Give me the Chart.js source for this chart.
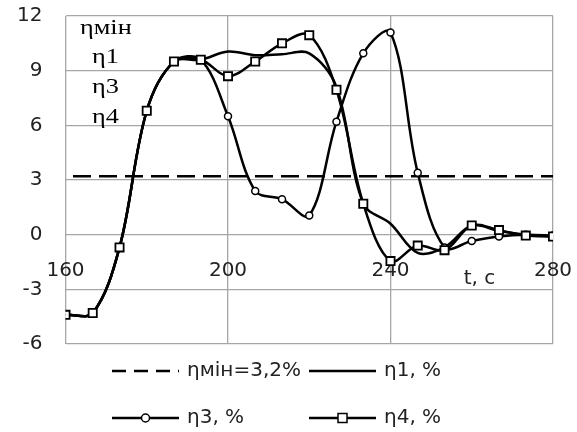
<!DOCTYPE html>
<html>
<head>
<meta charset="utf-8">
<script src="https://cdn.jsdelivr.net/npm/chart.js"></script>
<style>
  html, body { margin: 0; padding: 0; background: #fff; }
  #wrap { width: 577px; height: 432px; position: relative; }
</style>
</head>
<body>
<div id="wrap"><canvas id="chart"></canvas></div>
<script>
// час, с
const tValues = [160, 166.7, 173.3, 180, 186.7, 193.3, 200, 206.7, 213.3, 220,
                 226.7, 233.3, 240, 246.7, 253.3, 260, 266.7, 273.3, 280];

// ηмін = 3,2 %
const etaMinT = [160, 280];
const etaMinValues = [3.2, 3.2];

// η1, % (без маркерів)
const eta1Values = [-4.4, -4.3, -0.7, 6.8, 9.5, 9.6, 10.05, 9.85, 9.9, 9.95,
                    8.1, 1.7, 0.6, -1.0, -0.7, 0.5, 0.2, 0.0, -0.1];

// η3, % (кружки)
const eta3Values = [-4.4, -4.3, -0.7, 6.8, 9.5, 9.6, 6.5, 2.4, 1.95, 1.05,
                    6.2, 9.95, 11.1, 3.4, -0.7, -0.35, -0.1, 0.0, -0.05];

// η4, % (квадрати)
const eta4Values = [-4.4, -4.3, -0.7, 6.8, 9.5, 9.6, 8.7, 9.5, 10.5, 10.95,
                    7.95, 1.7, -1.45, -0.6, -0.85, 0.5, 0.25, -0.05, -0.1];

const xTickStep = 40;
const yTickStep = 3;

const legendLabels = ['ηмін=3,2%', 'η1, %', 'η3, %', 'η4, %'];
const innerLabels = ['ηмін', 'η1', 'η3', 'η4'];

const sansFont = "'DejaVu Sans', sans-serif";
const serifFont = "'Liberation Serif', 'DejaVu Serif', serif";
const gridColor = '#a6a6a6';

function toPoints(xs, ys) {
  return xs.map((x, i) => ({ x: x, y: ys[i] }));
}

// підписи всередині поля графіка, "t, c" та легенда
const extrasPlugin = {
  id: 'extras',
  afterDraw(chart) {
    const ctx = chart.ctx;
    const x = chart.scales.x;

    ctx.save();
    ctx.fillStyle = '#000';
    ctx.textBaseline = 'middle';
    ctx.textAlign = 'left';

    // serif-підписи, трохи розтягнуті по горизонталі
    const innerPos = [[80, 28], [92, 57], [92, 87], [92, 117]];
    innerLabels.forEach((txt, i) => {
      ctx.save();
      ctx.translate(innerPos[i][0], innerPos[i][1]);
      ctx.scale(1.25, 1);
      ctx.font = '21px ' + serifFont;
      ctx.fillText(txt, 0, 0);
      ctx.restore();
    });

    // назва осі
    ctx.font = '20px ' + sansFont;
    ctx.fillStyle = '#222';
    ctx.fillText('t, c', x.getPixelForValue(258), 279);

    // легенда
    const items = [
      { x: 112, y: 371, dash: [14, 8], marker: null },
      { x: 309, y: 371, dash: [], marker: null },
      { x: 112, y: 418, dash: [], marker: 'circle' },
      { x: 309, y: 418, dash: [], marker: 'rect' }
    ];
    items.forEach((it, i) => {
      const w = 67;
      ctx.strokeStyle = '#000';
      ctx.lineWidth = 2.5;
      ctx.setLineDash(it.dash);
      ctx.beginPath();
      ctx.moveTo(it.x, it.y);
      ctx.lineTo(it.x + w, it.y);
      ctx.stroke();
      ctx.setLineDash([]);
      const cx = it.x + w / 2;
      if (it.marker === 'circle') {
        ctx.lineWidth = 1.5;
        ctx.fillStyle = '#fff';
        ctx.beginPath();
        ctx.arc(cx, it.y, 4, 0, Math.PI * 2);
        ctx.fill();
        ctx.stroke();
      } else if (it.marker === 'rect') {
        ctx.lineWidth = 1.5;
        ctx.fillStyle = '#fff';
        ctx.fillRect(cx - 4.5, it.y - 4.5, 9, 9);
        ctx.strokeRect(cx - 4.5, it.y - 4.5, 9, 9);
      }
      ctx.fillStyle = '#222';
      ctx.font = '20px ' + sansFont;
      ctx.fillText(legendLabels[i], it.x + w + 8, it.y);
    });
    ctx.restore();
  }
};

new Chart(document.getElementById('chart'), {
  type: 'line',
  data: {
    datasets: [
      {
        label: legendLabels[0],
        data: toPoints(etaMinT, etaMinValues),
        borderColor: '#000',
        borderWidth: 2.5,
        borderDash: [18, 8],
        borderDashOffset: -7.5,
        pointRadius: 0,
        order: 3
      },
      {
        label: legendLabels[1],
        data: toPoints(tValues, eta1Values),
        borderColor: '#000',
        borderWidth: 2.5,
        tension: 0.35,
        pointRadius: 0,
        order: 2
      },
      {
        label: legendLabels[2],
        data: toPoints(tValues, eta3Values),
        borderColor: '#000',
        borderWidth: 2.5,
        tension: 0.35,
        pointStyle: 'circle',
        pointRadius: 3.5,
        pointBorderWidth: 1.5,
        pointBackgroundColor: '#fff',
        pointBorderColor: '#000',
        order: 1
      },
      {
        label: legendLabels[3],
        data: toPoints(tValues, eta4Values),
        borderColor: '#000',
        borderWidth: 2.5,
        tension: 0.35,
        pointStyle: 'rect',
        pointRadius: 5.8,
        pointBorderWidth: 1.8,
        pointBackgroundColor: '#fff',
        pointBorderColor: '#000',
        order: 0
      }
    ]
  },
  options: {
    responsive: true,
    maintainAspectRatio: false,
    animation: false,
    layout: { padding: { left: 0, top: 16, right: 24, bottom: 88 } },
    plugins: {
      legend: { display: false },
      tooltip: { enabled: false }
    },
    scales: {
      x: {
        type: 'linear',
        min: 160,
        max: 280,
        position: { y: 0 },
        border: { display: false },
        grid: { color: gridColor, lineWidth: 1.3, drawTicks: false },
        ticks: {
          stepSize: xTickStep,
          padding: 24,
          color: '#222',
          font: { family: sansFont, size: 20 }
        },
        afterFit(scale) {
          scale.height = 0;
          scale.paddingLeft = 0;
          scale.paddingRight = 0;
        }
      },
      y: {
        min: -6,
        max: 12,
        border: { display: false },
        grid: { color: gridColor, lineWidth: 1.3, drawTicks: false },
        ticks: {
          stepSize: yTickStep,
          padding: 23,
          color: '#222',
          font: { family: sansFont, size: 20 }
        },
        afterFit(scale) {
          scale.width = 65.5;
          scale.paddingTop = 0;
          scale.paddingBottom = 0;
        }
      }
    }
  },
  plugins: [extrasPlugin]
});
</script>
</body>
</html>
